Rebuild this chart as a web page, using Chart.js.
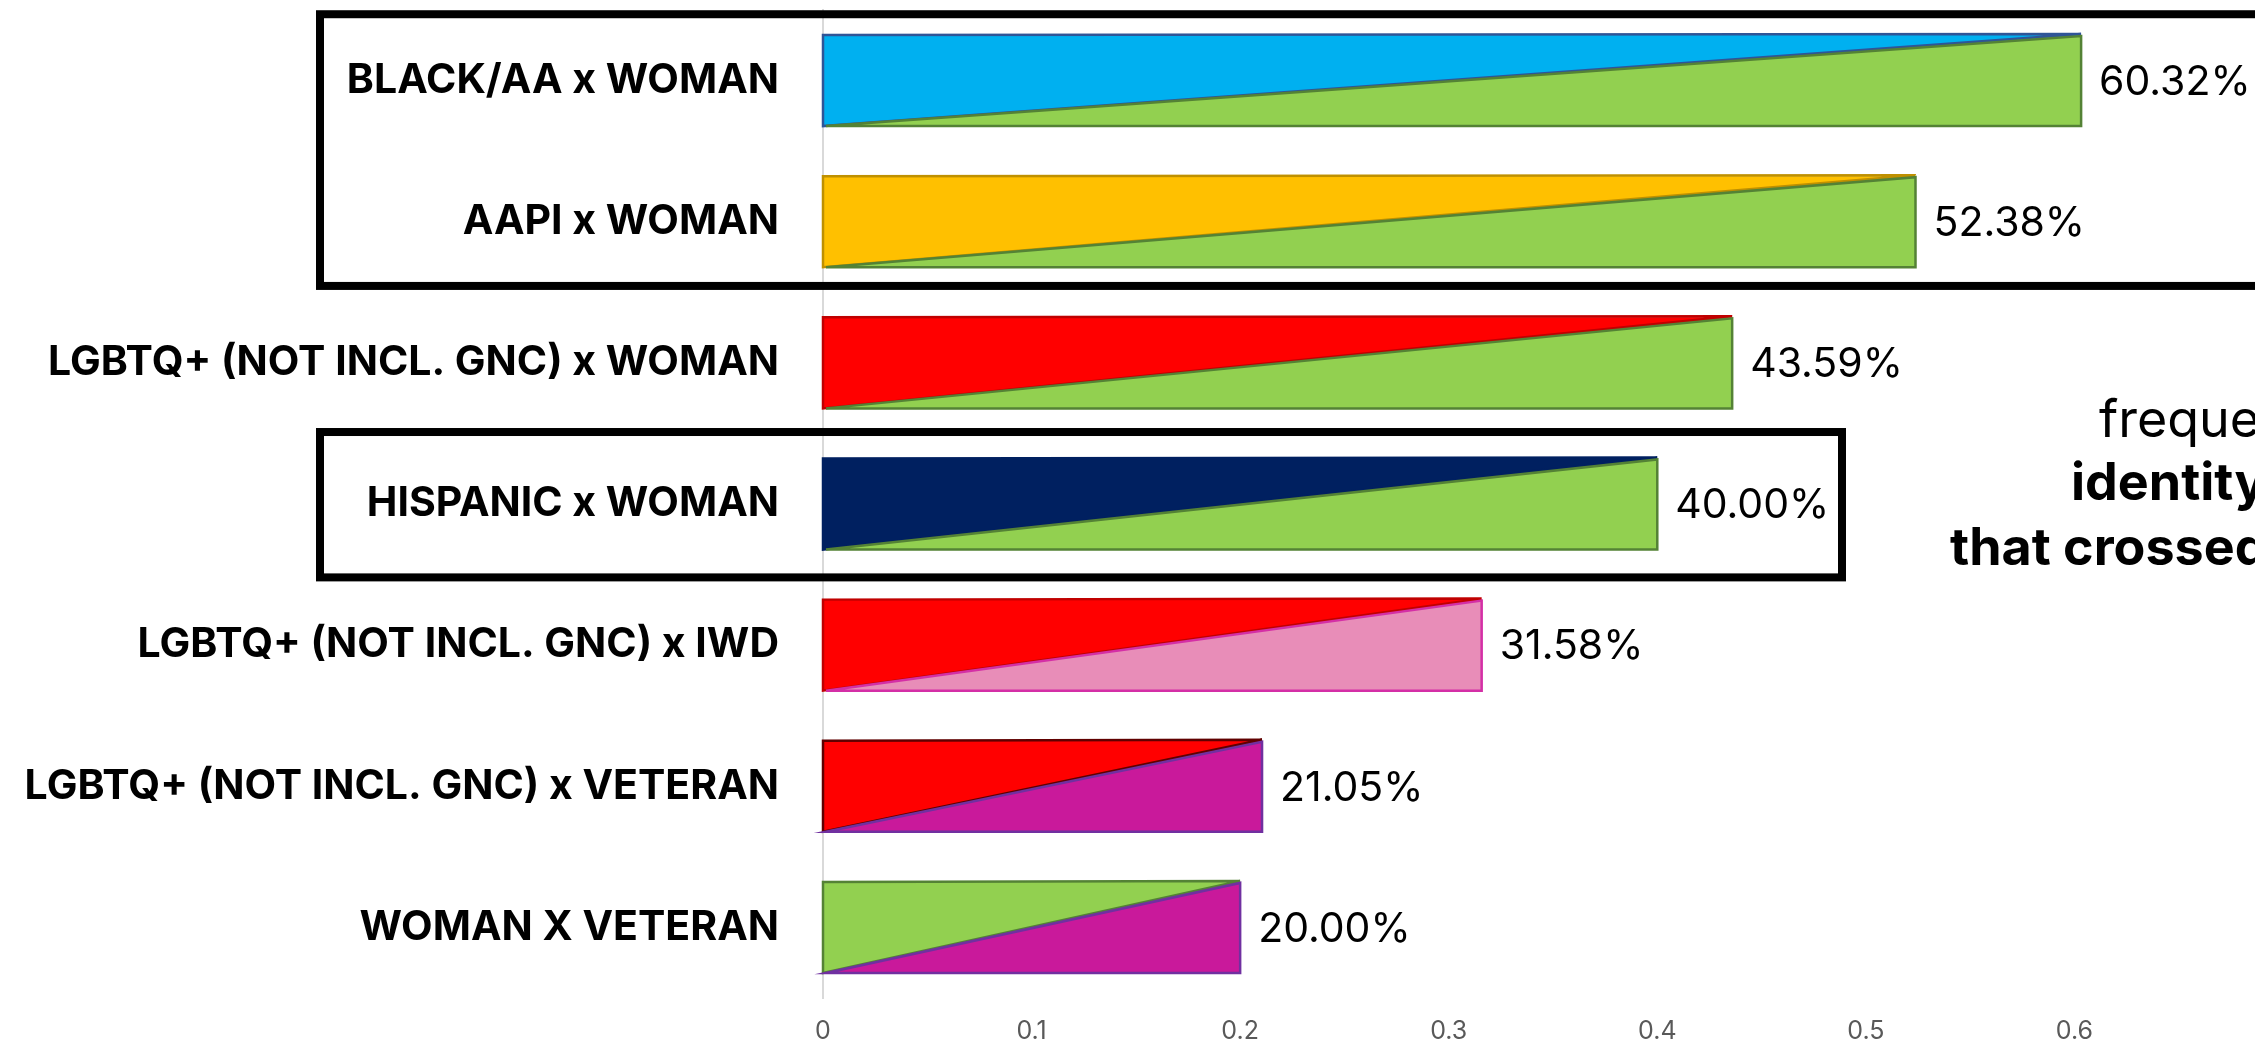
<!DOCTYPE html>
<html>
<head>
<meta charset="utf-8">
<script src="https://cdn.jsdelivr.net/npm/chart.js@4.4.0/dist/chart.umd.min.js"></script>
<style>
  html, body { margin: 0; padding: 0; background: #fff; overflow: hidden; width: 2255px; height: 1044px; }
  #wrap { position: relative; width: 2400px; height: 1044px; }
</style>
</head>
<body>
<div id="wrap"><canvas id="chart" width="2400" height="1044"></canvas></div>
<script>
/// data
const categories = [
  "BLACK/AA x WOMAN",
  "AAPI x WOMAN",
  "LGBTQ+ (NOT INCL. GNC) x WOMAN",
  "HISPANIC x WOMAN",
  "LGBTQ+ (NOT INCL. GNC) x IWD",
  "LGBTQ+ (NOT INCL. GNC) x VETERAN",
  "WOMAN X VETERAN",
];
const values = [0.6032, 0.5238, 0.4359, 0.4, 0.3158, 0.2105, 0.2];
const valueLabels = ["60.32%", "52.38%", "43.59%", "40.00%", "31.58%", "21.05%", "20.00%"];
const xMin = 0;
const xMax = 0.7;
const xStep = 0.1;

// colours of the two halves of each bar (upper-left / lower-right)
const topColors = ["#00B0F0", "#FFC000", "#FF0000", "#002060", "#FF0000", "#FF0000", "#92D050"];
const bottomColors = ["#92D050", "#92D050", "#92D050", "#92D050", "#E88DB8", "#C9199B", "#C9199B"];
const topLines = ["#2F5597", "#BF9000", "#C00000", "#002060", "#C00000", "#600000", "#548235"];
const bottomLines = ["#548235", "#548235", "#548235", "#548235", "#D42FA6", "#7030A0", "#7030A0"];

// rows that get a black frame round them
const boxedGroups = [[0, 1], [3, 3]];

const FONT = "Inter, 'DejaVu Sans', sans-serif";

const splitBars = {
  id: "splitBars",
  afterDatasetsDraw(chart) {
    const ctx = chart.ctx;
    const meta = chart.getDatasetMeta(0);
    ctx.save();
    meta.data.forEach((bar, i) => {
      const { x, y, base, height } = bar.getProps(["x", "y", "base", "height"], true);
      const top = y - height / 2;
      const bottom = y + height / 2;
      // outline of upper-left triangle (incl. its diagonal)
      ctx.beginPath();
      ctx.moveTo(x, top - 1);
      ctx.lineTo(base, top);
      ctx.lineTo(base, bottom);
      ctx.lineTo(x, top - 1);
      ctx.lineWidth = 2.5;
      ctx.strokeStyle = topLines[i];
      ctx.stroke();
      // lower-right triangle
      ctx.beginPath();
      ctx.moveTo(base + 3, bottom);
      ctx.lineTo(x, top + 1);
      ctx.lineTo(x, bottom);
      ctx.closePath();
      ctx.fillStyle = bottomColors[i];
      ctx.fill();
      ctx.lineWidth = 2.5;
      ctx.strokeStyle = bottomLines[i];
      ctx.stroke();
      // value label
      ctx.fillStyle = "#000";
      ctx.font = "400 41px " + FONT;
      ctx.textAlign = "left";
      ctx.textBaseline = "middle";
      ctx.fillText(valueLabels[i], x + 18, y + 2);
    });
    ctx.restore();
  },
};

const frames = {
  id: "frames",
  afterDraw(chart) {
    const ctx = chart.ctx;
    const ys = chart.scales.y;
    const pitch = ys.getPixelForValue(1) - ys.getPixelForValue(0);
    ctx.save();
    ctx.lineWidth = 8;
    ctx.strokeStyle = "#000";
    // top frame runs off the right edge
    let t = ys.getPixelForValue(boxedGroups[0][0]) - 0.47 * pitch;
    let b = ys.getPixelForValue(boxedGroups[0][1]) + 0.455 * pitch;
    ctx.strokeRect(320, t, 2200, b - t);
    t = ys.getPixelForValue(boxedGroups[1][0]) - 0.51 * pitch;
    b = ys.getPixelForValue(boxedGroups[1][1]) + 0.52 * pitch;
    ctx.strokeRect(320, t, 1522, b - t);

    // side note, cut off by the edge of the picture
    ctx.fillStyle = "#000";
    ctx.textAlign = "left";
    ctx.textBaseline = "alphabetic";
    ctx.font = "400 52px " + FONT;
    ctx.fillText("frequently", 2099, 437);
    ctx.font = "700 52px " + FONT;
    ctx.fillText("identity", 2071, 500);
    ctx.fillText("that crossed", 1950, 565);
    ctx.restore();
  },
};

new Chart(document.getElementById("chart"), {
  type: "bar",
  data: {
    labels: categories,
    datasets: [
      {
        data: values,
        backgroundColor: topColors,
        borderWidth: 0,
        barPercentage: 0.645,
        categoryPercentage: 1,
      },
    ],
  },
  options: {
    indexAxis: "y",
    responsive: false,
    animation: false,
    layout: { padding: { top: 10, right: 117, left: 0, bottom: 0 } },
    plugins: { legend: { display: false }, tooltip: { enabled: false } },
    scales: {
      y: {
        afterFit: (scale) => {
          scale.width = 823;
          scale.paddingTop = 0;
          scale.paddingBottom = 0;
        },
        grid: { display: false, drawTicks: false },
        border: { display: true, color: "#D9D9D9", width: 2 },
        ticks: { color: "#000", padding: 44, font: { family: FONT, size: 41, weight: "700" } },
      },
      x: {
        min: xMin,
        max: xMax,
        afterFit: (scale) => {
          scale.height = 46;
          scale.paddingLeft = 0;
          scale.paddingRight = 0;
        },
        grid: { display: false, drawTicks: false },
        border: { display: false },
        ticks: { stepSize: xStep, color: "#595959", padding: 18, font: { family: FONT, size: 25 } },
      },
    },
  },
  plugins: [splitBars, frames],
});
</script>
</body>
</html>
